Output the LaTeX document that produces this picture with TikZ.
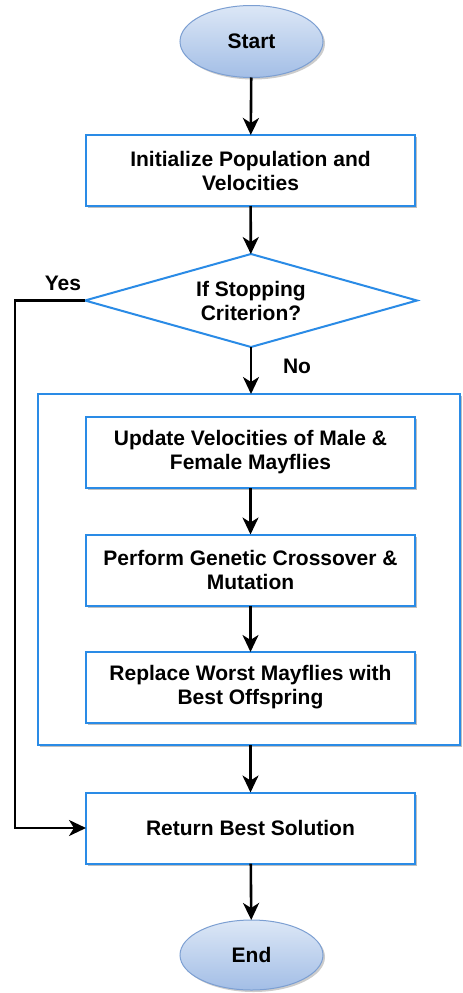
\documentclass[tikz,border=0pt]{standalone}
\usepackage{fontspec}
\setmainfont{Liberation Sans}
\usetikzlibrary{shapes.geometric,arrows.meta,shadows}
\definecolor{boxblue}{HTML}{2A8BE6}
\definecolor{ovaltop}{HTML}{DCE7F6}
\definecolor{ovalbot}{HTML}{A3BEE6}
\definecolor{ovalline}{HTML}{7C9FD2}
\tikzset{
  lbl/.style={font=\fontsize{21}{24}\selectfont\bfseries, align=center, text=black},
  procbox/.style={lbl, draw=boxblue, line width=2pt, fill=white, rectangle,
    inner sep=0pt, outer sep=0pt, minimum width=329pt, minimum height=71pt,
    drop shadow={shadow xshift=2pt, shadow yshift=-2pt, fill=black, opacity=0.25}},
  groupbox/.style={draw=boxblue, line width=2pt, fill=white, rectangle,
    inner sep=0pt, outer sep=0pt, minimum width=422pt, minimum height=351pt,
    drop shadow={shadow xshift=2pt, shadow yshift=-2pt, fill=black, opacity=0.25}},
  decision/.style={lbl, draw=boxblue, line width=2pt, fill=white, diamond,
    aspect=3.57, inner sep=0pt, outer sep=0pt, minimum width=332pt, minimum height=93pt},
  terminal/.style={lbl, ellipse, draw=ovalline, line width=1pt,
    top color=ovaltop, bottom color=ovalbot, inner sep=0pt, outer sep=0pt,
    minimum width=143pt, minimum height=72pt,
    drop shadow={shadow xshift=2pt, shadow yshift=-2pt, fill=black, opacity=0.2}},
  flow/.style={draw=black, line width=2.6pt,
    -{Stealth[length=17pt, width=16pt, inset=5pt]}},
}
\begin{document}
\begin{tikzpicture}[x=1pt, y=-1pt]
  \useasboundingbox[fill=white] (0,0) rectangle (463,993);

  % loop body container
  \node[groupbox] (loop) at (249,569.5) {};

  \node[terminal] (start) at (251.5,41.5) {Start};
  \node[procbox] (init) at (250.5,170.5) {Initialize Population and\\Velocities};
  \node[decision] (stop) at (251,300.5) {If Stopping\\Criterion?};
  \node[procbox] (upd) at (250.5,452.5) {Update Velocities of Male \&\\Female Mayflies};
  \node[procbox] (gen) at (250.5,570) {Perform Genetic Crossover \&\\Mutation};
  \node[procbox] (rep) at (250.5,687.5) {Replace Worst Mayflies with\\Best Offspring};
  \node[procbox] (ret) at (250.5,828) {Return Best Solution};
  \node[terminal, minimum height=70pt] (end) at (251.5,955) {End};

  \node[lbl] (yes) at (63,283) {Yes};
  \node[lbl] (no) at (297,366) {No};
  \coordinate (cornerA) at (15,300.5);
  \coordinate (cornerB) at (15,828);

  % main flow
  \draw[flow] (start) -- (init);
  \draw[flow] (init) -- (stop);
  \draw[flow] (stop.south) -- (stop.south |- loop.north);
  \draw[flow] (upd) -- (gen);
  \draw[flow] (gen) -- (rep);
  \draw[flow] (ret.north |- loop.south) -- (ret);
  \draw[flow] (ret) -- (end);

  % exit branch
  \draw[flow] (stop.west) -- (cornerA) -- (cornerB) -- (ret.west);
\end{tikzpicture}
\end{document}
